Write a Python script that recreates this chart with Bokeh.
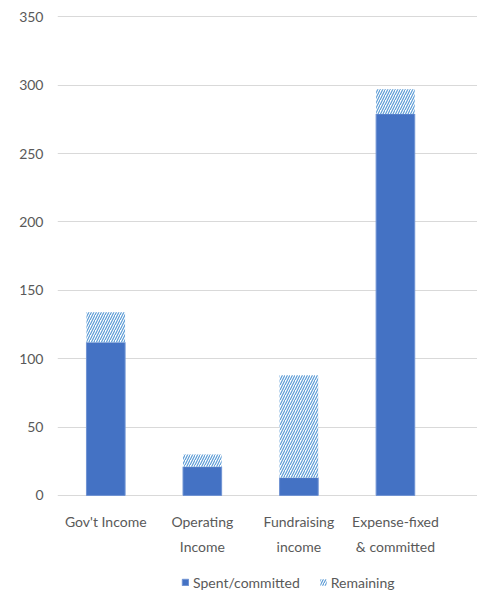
from bokeh.plotting import figure
from bokeh.models import ColumnDataSource, Legend, LegendItem, Range1d, FixedTicker
from bokeh.transform import stack
from bokeh.core.properties import value
from bokeh.embed import file_html
from bokeh.resources import INLINE

categories = ["Gov't Income", "Operating\nIncome", "Fundraising\nincome", "Expense-fixed\n& committed"]
spent = [112, 21, 13, 279]
remaining = [22, 9, 75, 18]
y_ticks = [0, 50, 100, 150, 200, 250, 300, 350]

xs = [i + 0.5 for i in range(len(categories))]
source = ColumnDataSource(dict(x=xs, spent=spent, remaining=remaining))
line1 = [c.split("\n")[0] for c in categories]
line2 = [c.split("\n")[1] if "\n" in c else "" for c in categories]

FONT = "Lato"
GRAY = "#595959"

# frame extends below zero so that category labels and legend sit inside it
p = figure(frame_width=420, frame_height=578, output_backend="svg", toolbar_location=None,
           x_range=Range1d(0, 4.35), y_range=Range1d(-71.7, 351), x_axis_location=None,
           min_border_top=15, min_border_left=57, min_border_right=0, min_border_bottom=0)
p.outline_line_color = None
p.background_fill_color = "white"
p.border_fill_color = "white"

r1 = p.vbar(x="x", bottom=stack(), top=stack("spent"), width=0.4, source=source,
            fill_color="#4472C4", line_color="#6f93d3", line_width=1)
r2 = p.vbar(x="x", bottom=stack("spent"), top=stack("spent", "remaining"), width=0.4, source=source,
            fill_color="white", line_color=None,
            hatch_pattern="/", hatch_color="#5B9BD5", hatch_scale=5, hatch_weight=1.2)

# category labels (two lines) under the zero line
p.text(x=xs, y=0, text=line1, y_offset=26, text_align="center", text_baseline="middle",
       text_font=value(FONT), text_font_size="14px", text_color=GRAY)
p.text(x=xs, y=0, text=line2, y_offset=51, text_align="center", text_baseline="middle",
       text_font=value(FONT), text_font_size="14px", text_color=GRAY)

yax = p.yaxis[0]
yax.ticker = FixedTicker(ticks=y_ticks)
yax.axis_line_color = None
yax.major_tick_line_color = None
yax.minor_tick_line_color = None
yax.major_tick_in = 0
yax.major_tick_out = 0
yax.major_label_text_font = FONT
yax.major_label_text_font_size = "14px"
yax.major_label_text_color = GRAY
yax.major_label_standoff = 14

for g in p.grid:
    if g.dimension == 0:
        g.visible = False
    else:
        g.grid_line_color = "#d9d9d9"
        g.grid_line_width = 1
        g.ticker = FixedTicker(ticks=y_ticks)

legend = Legend(items=[LegendItem(label="Spent/committed", renderers=[r1]),
                       LegendItem(label="Remaining", renderers=[r2])],
                orientation="horizontal", location=(124, 2),
                glyph_width=8, glyph_height=8, label_standoff=4, spacing=19,
                label_height=18,
                label_text_font=FONT, label_text_font_size="14px", label_text_color=GRAY,
                border_line_color=None, background_fill_alpha=0, padding=0, margin=0)
p.add_layout(legend, "center")

open("out.html", "w").write(file_html(p, INLINE))
